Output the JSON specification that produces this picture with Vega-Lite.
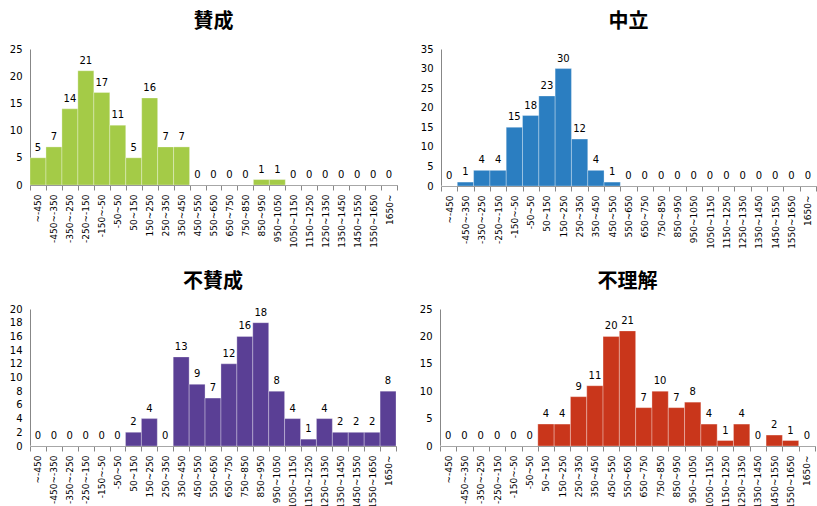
{
  "$schema": "https://vega.github.io/schema/vega-lite/v6.json",
  "padding": {"left": 9, "top": 12, "right": 0, "bottom": 0},
  "background": "#ffffff",
  "data": {
    "values": [
      {"panel": "賛成", "range": "~-450", "count": 5},
      {"panel": "賛成", "range": "-450~-350", "count": 7},
      {"panel": "賛成", "range": "-350~-250", "count": 14},
      {"panel": "賛成", "range": "-250~-150", "count": 21},
      {"panel": "賛成", "range": "-150~-50", "count": 17},
      {"panel": "賛成", "range": "-50~50", "count": 11},
      {"panel": "賛成", "range": "50~150", "count": 5},
      {"panel": "賛成", "range": "150~250", "count": 16},
      {"panel": "賛成", "range": "250~350", "count": 7},
      {"panel": "賛成", "range": "350~450", "count": 7},
      {"panel": "賛成", "range": "450~550", "count": 0},
      {"panel": "賛成", "range": "550~650", "count": 0},
      {"panel": "賛成", "range": "650~750", "count": 0},
      {"panel": "賛成", "range": "750~850", "count": 0},
      {"panel": "賛成", "range": "850~950", "count": 1},
      {"panel": "賛成", "range": "950~1050", "count": 1},
      {"panel": "賛成", "range": "1050~1150", "count": 0},
      {"panel": "賛成", "range": "1150~1250", "count": 0},
      {"panel": "賛成", "range": "1250~1350", "count": 0},
      {"panel": "賛成", "range": "1350~1450", "count": 0},
      {"panel": "賛成", "range": "1450~1550", "count": 0},
      {"panel": "賛成", "range": "1550~1650", "count": 0},
      {"panel": "賛成", "range": "1650~", "count": 0},

      {"panel": "中立", "range": "~-450", "count": 0},
      {"panel": "中立", "range": "-450~-350", "count": 1},
      {"panel": "中立", "range": "-350~-250", "count": 4},
      {"panel": "中立", "range": "-250~-150", "count": 4},
      {"panel": "中立", "range": "-150~-50", "count": 15},
      {"panel": "中立", "range": "-50~50", "count": 18},
      {"panel": "中立", "range": "50~150", "count": 23},
      {"panel": "中立", "range": "150~250", "count": 30},
      {"panel": "中立", "range": "250~350", "count": 12},
      {"panel": "中立", "range": "350~450", "count": 4},
      {"panel": "中立", "range": "450~550", "count": 1},
      {"panel": "中立", "range": "550~650", "count": 0},
      {"panel": "中立", "range": "650~750", "count": 0},
      {"panel": "中立", "range": "750~850", "count": 0},
      {"panel": "中立", "range": "850~950", "count": 0},
      {"panel": "中立", "range": "950~1050", "count": 0},
      {"panel": "中立", "range": "1050~1150", "count": 0},
      {"panel": "中立", "range": "1150~1250", "count": 0},
      {"panel": "中立", "range": "1250~1350", "count": 0},
      {"panel": "中立", "range": "1350~1450", "count": 0},
      {"panel": "中立", "range": "1450~1550", "count": 0},
      {"panel": "中立", "range": "1550~1650", "count": 0},
      {"panel": "中立", "range": "1650~", "count": 0},

      {"panel": "不賛成", "range": "~-450", "count": 0},
      {"panel": "不賛成", "range": "-450~-350", "count": 0},
      {"panel": "不賛成", "range": "-350~-250", "count": 0},
      {"panel": "不賛成", "range": "-250~-150", "count": 0},
      {"panel": "不賛成", "range": "-150~-50", "count": 0},
      {"panel": "不賛成", "range": "-50~50", "count": 0},
      {"panel": "不賛成", "range": "50~150", "count": 2},
      {"panel": "不賛成", "range": "150~250", "count": 4},
      {"panel": "不賛成", "range": "250~350", "count": 0},
      {"panel": "不賛成", "range": "350~450", "count": 13},
      {"panel": "不賛成", "range": "450~550", "count": 9},
      {"panel": "不賛成", "range": "550~650", "count": 7},
      {"panel": "不賛成", "range": "650~750", "count": 12},
      {"panel": "不賛成", "range": "750~850", "count": 16},
      {"panel": "不賛成", "range": "850~950", "count": 18},
      {"panel": "不賛成", "range": "950~1050", "count": 8},
      {"panel": "不賛成", "range": "1050~1150", "count": 4},
      {"panel": "不賛成", "range": "1150~1250", "count": 1},
      {"panel": "不賛成", "range": "1250~1350", "count": 4},
      {"panel": "不賛成", "range": "1350~1450", "count": 2},
      {"panel": "不賛成", "range": "1450~1550", "count": 2},
      {"panel": "不賛成", "range": "1550~1650", "count": 2},
      {"panel": "不賛成", "range": "1650~", "count": 8},

      {"panel": "不理解", "range": "~-450", "count": 0},
      {"panel": "不理解", "range": "-450~-350", "count": 0},
      {"panel": "不理解", "range": "-350~-250", "count": 0},
      {"panel": "不理解", "range": "-250~-150", "count": 0},
      {"panel": "不理解", "range": "-150~-50", "count": 0},
      {"panel": "不理解", "range": "-50~50", "count": 0},
      {"panel": "不理解", "range": "50~150", "count": 4},
      {"panel": "不理解", "range": "150~250", "count": 4},
      {"panel": "不理解", "range": "250~350", "count": 9},
      {"panel": "不理解", "range": "350~450", "count": 11},
      {"panel": "不理解", "range": "450~550", "count": 20},
      {"panel": "不理解", "range": "550~650", "count": 21},
      {"panel": "不理解", "range": "650~750", "count": 7},
      {"panel": "不理解", "range": "750~850", "count": 10},
      {"panel": "不理解", "range": "850~950", "count": 7},
      {"panel": "不理解", "range": "950~1050", "count": 8},
      {"panel": "不理解", "range": "1050~1150", "count": 4},
      {"panel": "不理解", "range": "1150~1250", "count": 1},
      {"panel": "不理解", "range": "1250~1350", "count": 4},
      {"panel": "不理解", "range": "1350~1450", "count": 0},
      {"panel": "不理解", "range": "1450~1550", "count": 2},
      {"panel": "不理解", "range": "1550~1650", "count": 1},
      {"panel": "不理解", "range": "1650~", "count": 0}
    ]
  },
  "vconcat": [
    {
      "spacing": 22,
      "hconcat": [
        {
          "title": "賛成",
          "width": 367,
          "height": 136,
          "transform": [{"filter": "datum.panel === '賛成'"}],
          "encoding": {
            "x": {"field": "range", "type": "ordinal", "sort": null, "scale": {"paddingInner": 0, "paddingOuter": 0}},
            "y": {"field": "count", "type": "quantitative", "scale": {"domain": [0, 25]}, "axis": {"values": [0, 5, 10, 15, 20, 25]}}
          },
          "layer": [
            {"mark": {"type": "bar", "color": "#A4CB47"}},
            {"mark": {"type": "text"}, "encoding": {"text": {"field": "count"}}}
          ]
        },
        {
          "title": "中立",
          "width": 375,
          "height": 137,
          "transform": [{"filter": "datum.panel === '中立'"}],
          "encoding": {
            "x": {"field": "range", "type": "ordinal", "sort": null, "scale": {"paddingInner": 0, "paddingOuter": 0}},
            "y": {"field": "count", "type": "quantitative", "scale": {"domain": [0, 35]}, "axis": {"values": [0, 5, 10, 15, 20, 25, 30, 35]}}
          },
          "layer": [
            {"mark": {"type": "bar", "color": "#2B7EC1"}},
            {"mark": {"type": "text"}, "encoding": {"text": {"field": "count"}}}
          ]
        }
      ]
    },
    {
      "spacing": 22,
      "hconcat": [
        {
          "title": "不賛成",
          "width": 366,
          "height": 137,
          "transform": [{"filter": "datum.panel === '不賛成'"}],
          "encoding": {
            "x": {"field": "range", "type": "ordinal", "sort": null, "scale": {"paddingInner": 0, "paddingOuter": 0}},
            "y": {"field": "count", "type": "quantitative", "scale": {"domain": [0, 20]}, "axis": {"values": [0, 2, 4, 6, 8, 10, 12, 14, 16, 18, 20]}}
          },
          "layer": [
            {"mark": {"type": "bar", "color": "#5A3F95"}},
            {"mark": {"type": "text"}, "encoding": {"text": {"field": "count"}}}
          ]
        },
        {
          "title": "不理解",
          "width": 375,
          "height": 137,
          "transform": [{"filter": "datum.panel === '不理解'"}],
          "encoding": {
            "x": {"field": "range", "type": "ordinal", "sort": null, "scale": {"paddingInner": 0, "paddingOuter": 0}},
            "y": {"field": "count", "type": "quantitative", "scale": {"domain": [0, 25]}, "axis": {"values": [0, 5, 10, 15, 20, 25]}}
          },
          "layer": [
            {"mark": {"type": "bar", "color": "#C9361B"}},
            {"mark": {"type": "text"}, "encoding": {"text": {"field": "count"}}}
          ]
        }
      ]
    }
  ],
  "spacing": 23,
  "config": {
    "view": {"stroke": null},
    "font": "DejaVu Sans",
    "title": {"font": "Noto Sans CJK JP", "fontSize": 20, "fontWeight": "bold", "color": "#000000", "offset": 12},
    "axis": {"grid": false, "title": null, "domainColor": "#878787", "labelFont": "DejaVu Sans", "labelFontSize": 10, "labelColor": "#000000"},
    "axisX": {"labelAngle": -90, "labelFontSize": 9, "tickBand": "extent", "tickColor": "#878787", "tickSize": 5, "labelPadding": 4, "labelOverlap": false},
    "axisY": {"ticks": false, "labelPadding": 8},
    "bar": {"stroke": "#ffffff", "strokeWidth": 1, "strokeOpacity": 0.3},
    "text": {"baseline": "bottom", "dy": -5, "fontSize": 10, "color": "#000000", "font": "DejaVu Sans"}
  }
}
